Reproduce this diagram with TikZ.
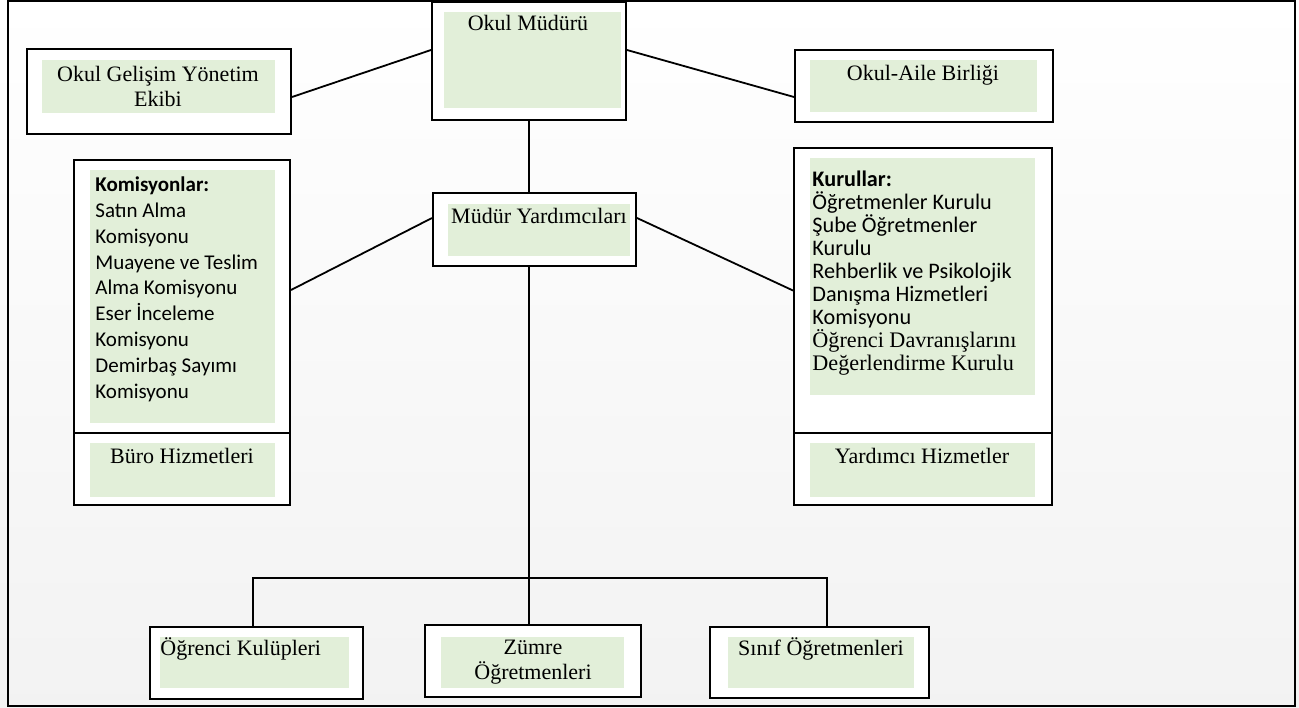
\documentclass[tikz,border=0pt]{standalone}
\usepackage{fontspec}
\setmainfont{Liberation Serif}
\newfontfamily\calibri{Carlito}
\usetikzlibrary{positioning, fit}
\definecolor{yesil}{HTML}{E2EFD9}

\begin{document}
\begin{tikzpicture}[x=0.5pt, y=-0.5pt,
  kutu/.style={draw, fill=white, line width=1pt, inner sep=0pt},
  yesil kutu/.style={fill=yesil, inner sep=0pt},
  baglanti/.style={line width=0.9pt},
  tnr/.style={font=\fontsize{11}{12.5}\selectfont, inner sep=0pt, align=center},
  kal/.style={font=\calibri\fontsize{10.5}{12.9}\selectfont, inner sep=0pt, align=left}]

  \useasboundingbox (0,0) rectangle (1299,707);
  \shade[top color=white, bottom color=black!5] (0,0) rectangle (1299,707);
  \draw[line width=1.3pt] (8,1) rectangle (1295,706);

  % ust sira
  \node[kutu, fit={(432,2) (626,120)}] (om) {};
  \node[yesil kutu, fit={(444,12) (621,108)}] (omg) {};
  \node[tnr, anchor=base] (omt) at (528,30) {Okul Müdürü};

  \node[kutu, fit={(27,49) (291,134)}] (ogye) {};
  \node[yesil kutu, fit={(42,60) (275,113)}] (ogyeg) {};
  % son satirin tabani
  \node[tnr, anchor=base] (ogyet) at (158,106) {Okul Gelişim Yönetim\\Ekibi};

  \node[kutu, fit={(795,50) (1053,122)}] (oa) {};
  \node[yesil kutu, fit={(810,60) (1037,112)}] (oag) {};
  \node[tnr, anchor=base] (oat) at (923,80) {Okul-Aile Birliği};

  % orta sira
  \node[kutu, fit={(433,193) (636,266)}] (my) {};
  \node[yesil kutu, fit={(448,204) (630,256)}] (myg) {};
  \node[tnr, anchor=base] (myt) at (539,223) {Müdür Yardımcıları};

  \node[kutu, fit={(74,160) (290,433)}] (kom) {};
  \node[yesil kutu, fit={(90,170) (275,423)}] (komg) {};
  \node[kal, anchor=base west] (komt) at (95,398) {{\bfseries Komisyonlar:}\\Satın Alma\\Komisyonu\\Muayene ve Teslim\\Alma Komisyonu\\Eser İnceleme\\Komisyonu\\Demirbaş Sayımı\\Komisyonu};
  \node[kutu, fit={(74,433) (290,505)}] (buro) {};
  \node[yesil kutu, fit={(90,443) (275,497)}] (burog) {};
  \node[tnr, anchor=base] (burot) at (182,463) {Büro Hizmetleri};

  \node[kutu, fit={(794,148) (1052,433)}] (kur) {};
  \node[yesil kutu, fit={(810,158) (1035,395)}] (kurg) {};
  \node[kal, font=\calibri\fontsize{11.1}{11.5}\selectfont, anchor=base west] (kurt) at (812,370) {{\bfseries Kurullar:}\\Öğretmenler Kurulu\\Şube Öğretmenler\\Kurulu\\Rehberlik ve Psikolojik\\Danışma Hizmetleri\\Komisyonu\\{\rmfamily Öğrenci Davranışlarını}\\{\rmfamily Değerlendirme Kurulu}};
  \node[kutu, fit={(794,433) (1052,505)}] (yh) {};
  \node[yesil kutu, fit={(810,443) (1035,497)}] (yhg) {};
  \node[tnr, anchor=base] (yht) at (922,463) {Yardımcı Hizmetler};

  % alt sira
  \node[kutu, fit={(150,627) (363,699)}] (ok) {};
  \node[yesil kutu, fit={(160,637) (349,688)}] (okg) {};
  \node[tnr, anchor=base west] (okt) at (160,655) {Öğrenci Kulüpleri};

  \node[kutu, fit={(425,625) (641,697)}] (zm) {};
  \node[yesil kutu, fit={(441,637) (624,688)}] (zmg) {};
  \node[tnr, anchor=base] (zmt) at (533,679) {Zümre\\Öğretmenleri};

  \node[kutu, fit={(710,627) (929,698)}] (sn) {};
  \node[yesil kutu, fit={(728,637) (914,688)}] (sng) {};
  \node[tnr, anchor=base] (snt) at (821,655) {Sınıf Öğretmenleri};

  % baglantilar
  \draw[baglanti] ([yshift=5.5pt]om.west) -- ([yshift=-2.75pt]ogye.east);
  \draw[baglanti] ([yshift=5.5pt]om.east) -- ([yshift=-5.5pt]oa.west);
  \draw[baglanti] (om.south) -- (om.south |- my.north);
  \draw[baglanti] ([yshift=5.75pt]my.west) -- ([yshift=3.25pt]kom.east);
  \draw[baglanti] ([yshift=5.75pt]my.east) -- (kur.west);
  \draw[baglanti] (om.south |- my.south) -- (om.south |- zm.north);
  \coordinate (sol) at (253,578);
  \coordinate (sag) at (827,578);
  \draw[baglanti] (sol |- ok.north) -- (sol) -- (sag) -- (sag |- sn.north);
\end{tikzpicture}
\end{document}
